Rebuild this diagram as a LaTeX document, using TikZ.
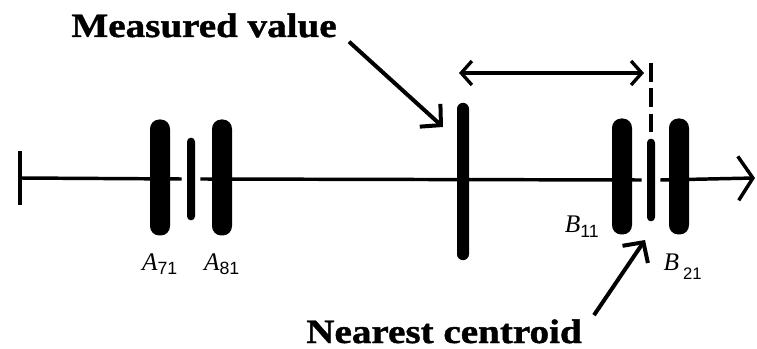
\documentclass[tikz,border=0pt]{standalone}
\usepackage{fontspec}
\setmainfont{Liberation Serif}
\setsansfont{Liberation Sans}
\newfontfamily\calloutfont[FakeStretch=1.15, BoldFeatures={FakeBold=1.2}]{Liberation Serif}
\usetikzlibrary{arrows.meta, positioning, backgrounds}
\tikzset{
  bigbar/.style={rectangle, fill=black, inner sep=0pt,
                 minimum width=15pt, minimum height=87pt, rounded corners=7pt},
  thinbar/.style={rectangle, fill=black, inner sep=0pt, outer sep=4pt,
                  minimum width=6pt, minimum height=62pt, rounded corners=3pt},
  valuebar/.style={rectangle, fill=black, inner sep=0pt,
                   minimum width=9pt, minimum height=118pt, rounded corners=4.5pt},
  tickmark/.style={rectangle, fill=black, inner sep=0pt,
                   minimum width=3.2pt, minimum height=41pt},
  axis/.style={line width=2.6pt},
  axisarrow/.style={-{Straight Barb[length=11pt, width=33pt]}, line width=2.6pt},
  pointer/.style={-{Straight Barb[length=11pt, width=23pt]}, line width=3pt},
  span/.style={{Straight Barb[length=8pt, width=18pt]}-{Straight Barb[length=8pt, width=18pt]},
               line width=2.5pt},
  guide/.style={line width=2.4pt, dash pattern=on 14pt off 5pt},
  callout/.style={font=\calloutfont\bfseries\fontsize{25.5}{28}\selectfont,
                  inner xsep=9pt, inner ysep=3pt},
  barlabel/.style={font=\fontsize{19}{21}\selectfont, inner sep=0pt},
}
\newcommand{\cid}[2]{\textit{#1}\textsubscript{\sffamily #2}}

\begin{document}
\begin{tikzpicture}[x=0.75pt, y=-0.75pt]

  \useasboundingbox (0,0) rectangle (757,349);

  % =====================================================
  % CENTROID BARS
  % =====================================================

  \node[tickmark] (origin) at (20,178) {};

  \node[bigbar]  (a71)  at (160,177.5) {};
  \node[thinbar] (amid) at (191,179) {};
  \node[bigbar]  (a81)  at (222,177.5) {};

  \node[valuebar] (mv) at (463,181.5) {};

  \node[bigbar]  (b11)  at (622,176.5) {};
  \node[thinbar] (bmid) at (651,180) {};
  \node[bigbar]  (b21)  at (679,176.5) {};

  \coordinate (axend) at (755,178);


  % =====================================================
  % LABELS
  % =====================================================

  \node[barlabel, below=13pt of a71] (a71lbl) {\cid{A}{71}};
  \node[barlabel, below=13pt of a81] (a81lbl) {\cid{A}{81}};

  \node[barlabel, above left=-2pt and 9pt of b11.south west]
    (b11lbl) {\cid{B}{11}};

  \node[barlabel, below right=14pt and -4pt of b21.south west]
    (b21lbl) {\textit{B}\kern3pt\raisebox{-7pt}{\sffamily\fontsize{12.5}{14}\selectfont 21}};


  % =====================================================
  % AXIS
  % =====================================================

  \begin{scope}[on background layer]
    \draw[axis]
      (origin.center) -- (amid.west);

    \draw[axis]
      (amid.east) -- (bmid.west);

    \draw[axisarrow]
      (bmid.east) -- (axend);
  \end{scope}


  % =====================================================
  % DISTANCE TO NEAREST CENTROID
  % =====================================================

  \coordinate (guidetop) at (651,63);
  \coordinate (spanl) at (459,73);
  \coordinate (spanr) at (644,73);

  \draw[guide]
    (guidetop) -- (bmid.north);

  \draw[span]
    (spanl) -- (spanr);


  % =====================================================
  % CALLOUTS
  % =====================================================

  \node[callout, anchor=base east] (mvtext) at (349,37) {Measured value};

  \node[callout, anchor=base east] (nctext) at (594,343) {Nearest centroid};

  \coordinate (mvtip) at (443,127);
  \coordinate (nctip) at (645,240);

  \draw[pointer]
    (mvtext.south east) -- (mvtip);

  \draw[pointer]
    (nctext.north east) -- (nctip);

\end{tikzpicture}
\end{document}
